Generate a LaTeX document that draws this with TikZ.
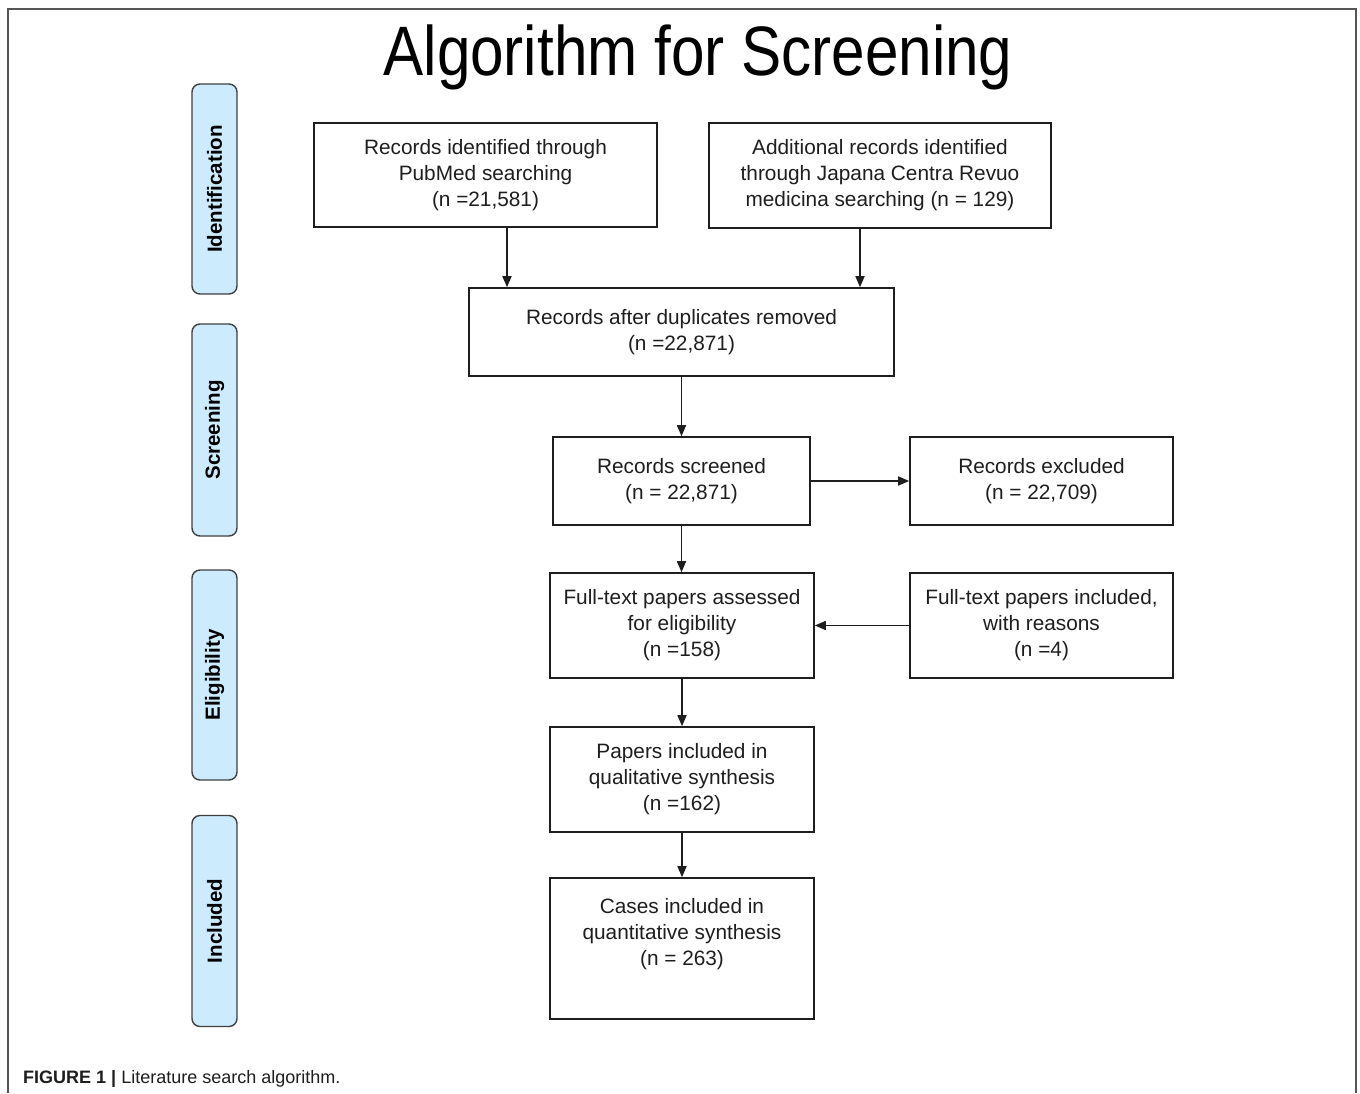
\documentclass[tikz,border=0pt]{standalone}
\usepackage{fontspec}
\setmainfont{Liberation Sans}
\newfontfamily\titlefont[FakeStretch=0.86]{Liberation Sans}
\usetikzlibrary{arrows.meta}
\definecolor{pillfill}{HTML}{CCEBFC}
\definecolor{pillline}{HTML}{404040}
\definecolor{framegray}{HTML}{555555}
\definecolor{ink}{HTML}{1E1E1E}
\tikzset{
  flowbox/.style={draw=ink, line width=1.6pt, fill=white, inner sep=0pt, align=center,
    text=ink, font=\fontsize{20.8}{26}\selectfont},
  pill/.style={draw=pillline, line width=1.4pt, fill=pillfill, rounded corners=8pt,
    inner sep=0pt, minimum width=45pt},
  pilltext/.style={rotate=90, font=\bfseries\fontsize{20.5}{24}\selectfont, text=black},
  arr/.style={draw=ink, line width=1.6pt, -{Triangle[length=11pt,width=9pt]}},
}
\begin{document}
\begin{tikzpicture}[x=1pt,y=-1pt]
\useasboundingbox (0,0) rectangle (1360,1093);
\fill[white] (0,0) rectangle (1360,1093);
% frame
\draw[framegray, line width=2pt] (8,1093) -- (8,9) -- (1356,9) -- (1356,1093);
% title
\node[font=\titlefont\fontsize{70}{80}\selectfont, anchor=base] (title) at (698,75) {Algorithm for Screening};
% side pills
\node[pill, minimum height=210pt] (pid) at (214.5,189) {};
\node[pilltext] (tid) at (pid.center) {Identification};
\node[pill, minimum height=212pt] (psc) at (214.5,430) {};
\node[pilltext] (tsc) at (psc.center) {Screening};
\node[pill, minimum height=210pt] (pel) at (214.5,675) {};
\node[pilltext] (tel) at (pel.center) {Eligibility};
\node[pill, minimum height=211pt] (pin) at (214.5,921) {};
\node[pilltext] (tin) at (pin.center) {Included};
% boxes
\node[flowbox, minimum width=343pt, minimum height=104pt] (b1) at (485.5,175)
  {Records identified through\\PubMed searching\\(n =21,581)};
\node[flowbox, minimum width=342pt, minimum height=105pt] (b2) at (880,175.5)
  {Additional records identified\\through Japana Centra Revuo\\medicina searching (n = 129)};
\node[flowbox, minimum width=425pt, minimum height=88pt] (b3) at (681.5,332)
  {Records after duplicates removed\\(n =22,871)};
\node[flowbox, minimum width=257pt, minimum height=88pt] (scr) at (681.5,481)
  {Records screened\\(n = 22,871)};
\node[flowbox, minimum width=263pt, minimum height=88pt] (exc) at (1041.5,481)
  {Records excluded\\(n = 22,709)};
\node[flowbox, minimum width=264pt, minimum height=105pt] (ft) at (682,625.5)
  {Full-text papers assessed\\for eligibility\\(n =158)};
\node[flowbox, minimum width=263pt, minimum height=105pt] (fti) at (1041.5,625.5)
  {Full-text papers included,\\with reasons\\(n =4)};
\node[flowbox, minimum width=264pt, minimum height=105pt] (qual) at (682,779.5)
  {Papers included in\\qualitative synthesis\\(n =162)};
\node[flowbox, minimum width=264pt, minimum height=141pt] (quant) at (682,948.5)
  {Cases included in\\quantitative synthesis\\(n = 263)\\[7pt]\mbox{}};
% connectors
\draw[arr] ([xshift=21.5pt]b1.south) -- ([xshift=21.5pt]b1.south |- b3.north);
\draw[arr] ([xshift=-20pt]b2.south) -- ([xshift=-20pt]b2.south |- b3.north);
\draw[arr] (b3.south) -- (scr.north);
\draw[arr] (scr.east) -- (exc.west);
\draw[arr] (scr.south) -- (scr.south |- ft.north);
\draw[arr] (fti.west) -- (ft.east);
\draw[arr] (ft.south) -- (qual.north);
\draw[arr] (qual.south) -- (quant.north);
% caption
\node[anchor=base west, inner sep=0pt, font=\fontsize{18}{21}\selectfont, text=ink] (cap) at (23,1083)
  {\textbf{FIGURE 1 |} Literature search algorithm.};
\end{tikzpicture}
\end{document}
